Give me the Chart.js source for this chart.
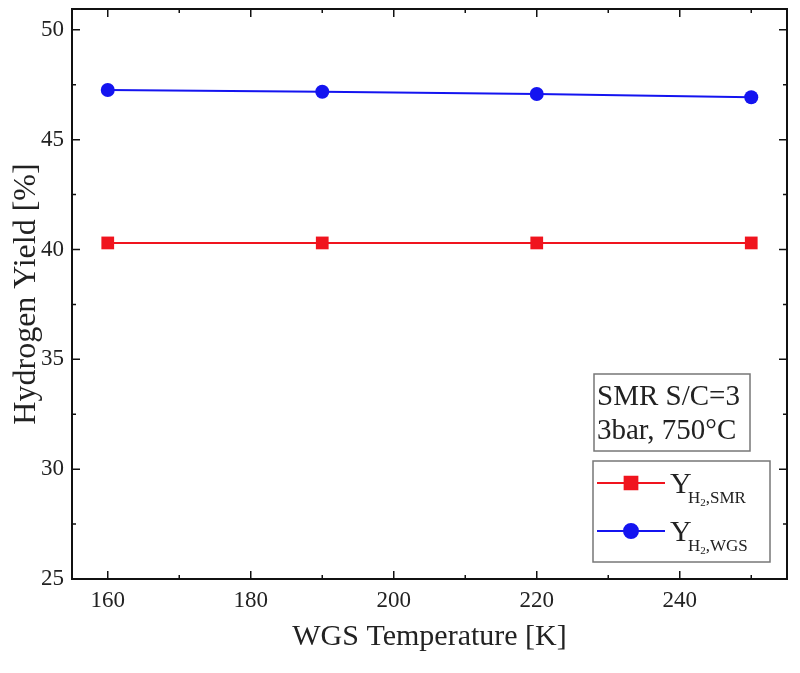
<!DOCTYPE html>
<html lang="en">
<head>
    <meta charset="UTF-8">
    <title>Hydrogen Yield vs WGS Temperature</title>
    <script src="https://cdn.jsdelivr.net/npm/chart.js@4.4.1/dist/chart.umd.min.js"></script>
    <style>
        body {
            margin: 0;
            background: #fff;
        }

        .wrap {
            width: 800px;
            height: 673px;
        }
    </style>
</head>
<body>
    <div class="wrap">
        <canvas id="chart" width="800" height="673"></canvas>
    </div>

    <script>
        // values
        const temps = [160, 190, 220, 250];
        const yieldSMR = [40.3, 40.3, 40.3, 40.3];
        const yieldWGS = [47.26, 47.18, 47.08, 46.93];
        const xTicks = [160, 180, 200, 220, 240];
        const xMinor = [170, 190, 210, 230, 250];
        const yTicks = [25, 30, 35, 40, 45, 50];
        const yMinor = [27.5, 32.5, 37.5, 42.5, 47.5];
        const noteLines = ['SMR S/C=3', '3bar, 750\u00b0C'];
        const legendSubs = ['SMR', 'WGS'];

        const serif = '"Liberation Serif", "Times New Roman", serif';
        const red = '#f0141e';
        const blue = '#1414f0';

        // frame, inward ticks on all four sides, note box and legend box
        const framePlugin = {
            id: 'frame',
            afterDraw(chart) {
                const ctx = chart.ctx;
                const a = chart.chartArea;
                const xs = chart.scales.x;
                const ys = chart.scales.y;
                ctx.save();
                ctx.strokeStyle = '#111';
                ctx.lineWidth = 2;
                ctx.strokeRect(a.left, a.top, a.right - a.left, a.bottom - a.top);

                ctx.lineWidth = 1.5;
                ctx.beginPath();
                const tickX = (vals, len) => vals.forEach(v => {
                    const p = xs.getPixelForValue(v);
                    ctx.moveTo(p, a.bottom); ctx.lineTo(p, a.bottom - len);
                    ctx.moveTo(p, a.top); ctx.lineTo(p, a.top + len);
                });
                const tickY = (vals, len) => vals.forEach(v => {
                    const p = ys.getPixelForValue(v);
                    ctx.moveTo(a.left, p); ctx.lineTo(a.left + len, p);
                    ctx.moveTo(a.right, p); ctx.lineTo(a.right - len, p);
                });
                tickX(xTicks, 8); tickX(xMinor, 4);
                tickY(yTicks, 8); tickY(yMinor, 4);
                ctx.stroke();

                // note box
                ctx.fillStyle = '#fff';
                ctx.fillRect(594, 374, 156, 77);
                ctx.strokeStyle = '#777';
                ctx.lineWidth = 1.5;
                ctx.strokeRect(594, 374, 156, 77);
                ctx.fillStyle = '#222';
                ctx.font = '29px ' + serif;
                ctx.textBaseline = 'middle';
                ctx.textAlign = 'left';
                noteLines.forEach((t, i) => ctx.fillText(t, 597, 397 + i * 34));

                // legend box
                ctx.fillStyle = '#fff';
                ctx.fillRect(593, 461, 177, 101);
                ctx.strokeRect(593, 461, 177, 101);

                chart.data.datasets.forEach((ds, i) => {
                    const y = 483 + i * 48;
                    ctx.strokeStyle = ds.borderColor;
                    ctx.lineWidth = 2;
                    ctx.beginPath();
                    ctx.moveTo(597, y); ctx.lineTo(665, y);
                    ctx.stroke();
                    Chart.helpers.drawPoint(ctx, {
                        pointStyle: ds.pointStyle,
                        radius: ds.pointRadius,
                        borderWidth: 1
                    }, 631, y);
                    ctx.fillStyle = ds.backgroundColor;
                    ctx.fill();

                    ctx.fillStyle = '#222';
                    ctx.textBaseline = 'alphabetic';
                    ctx.font = '30px ' + serif;
                    ctx.fillText('Y', 670, y + 10);
                    ctx.font = '17px ' + serif;
                    ctx.fillText('H', 688, y + 20);
                    let w = ctx.measureText('H').width;
                    ctx.font = '11px ' + serif;
                    ctx.fillText('2', 688 + w, y + 23);
                    const w2 = ctx.measureText('2').width;
                    ctx.font = '17px ' + serif;
                    ctx.fillText(',' + legendSubs[i], 688 + w + w2, y + 20);
                });
                ctx.restore();
            }
        };

        new Chart(document.getElementById('chart'), {
            type: 'line',
            data: {
                datasets: [{
                    label: 'Y H2,SMR',
                    data: temps.map((t, i) => ({ x: t, y: yieldSMR[i] })),
                    borderColor: red,
                    backgroundColor: red,
                    borderWidth: 2,
                    pointStyle: 'rect',
                    pointRadius: 9,
                    pointBorderWidth: 0
                }, {
                    label: 'Y H2,WGS',
                    data: temps.map((t, i) => ({ x: t, y: yieldWGS[i] })),
                    borderColor: blue,
                    backgroundColor: blue,
                    borderWidth: 2,
                    pointStyle: 'circle',
                    pointRadius: 7,
                    pointBorderWidth: 0
                }]
            },
            options: {
                responsive: false,
                animation: false,
                layout: { padding: { top: 5, right: 13, left: 0, bottom: 0 } },
                plugins: {
                    legend: { display: false },
                    tooltip: { enabled: false }
                },
                scales: {
                    x: {
                        type: 'linear',
                        min: 155,
                        max: 255,
                        grid: { display: false, drawTicks: false },
                        border: { display: false },
                        afterBuildTicks: s => { s.ticks = xTicks.map(v => ({ value: v })); },
                        afterFit: s => {
                            s.height = 94;
                            s.paddingLeft = 0;
                            s.paddingRight = 0;
                            s.paddingTop = 0;
                            s.paddingBottom = 0;
                        },
                        ticks: {
                            color: '#222',
                            padding: 8,
                            maxRotation: 0,
                            font: { family: serif, size: 23 }
                        },
                        title: {
                            display: true,
                            text: 'WGS Temperature [K]',
                            color: '#222',
                            font: { family: serif, size: 30 },
                            padding: { top: 0, bottom: 18 }
                        }
                    },
                    y: {
                        min: 25,
                        max: 50.95,
                        grid: { display: false, drawTicks: false },
                        border: { display: false },
                        afterBuildTicks: s => { s.ticks = yTicks.map(v => ({ value: v })); },
                        afterFit: s => {
                            s.width = 72;
                            s.paddingTop = 0;
                            s.paddingBottom = 0;
                            s.paddingLeft = 0;
                            s.paddingRight = 0;
                        },
                        ticks: {
                            color: '#222',
                            padding: 8,
                            font: { family: serif, size: 23 }
                        },
                        title: {
                            display: true,
                            text: 'Hydrogen Yield [%]',
                            color: '#222',
                            font: { family: serif, size: 32 },
                            padding: { top: 7, bottom: 0 }
                        }
                    }
                }
            },
            plugins: [framePlugin]
        });
    </script>
</body>
</html>
